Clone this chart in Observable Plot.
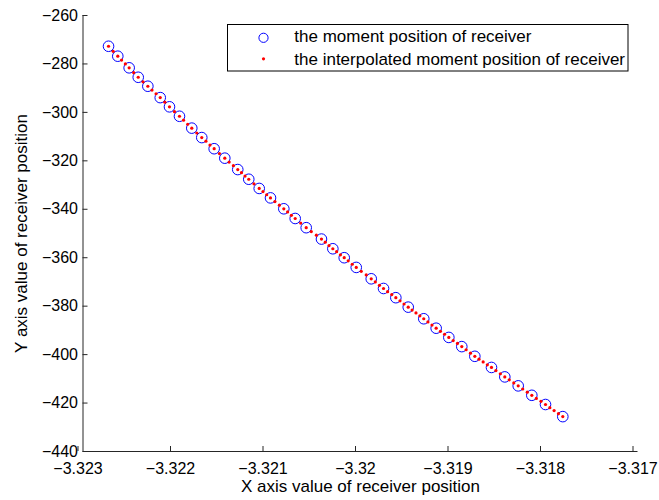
<!DOCTYPE html>
<html>
<head>
<meta charset="utf-8">
<script src="https://cdn.jsdelivr.net/npm/d3@7"></script>
<script src="https://cdn.jsdelivr.net/npm/@observablehq/plot@0.6"></script>
<style>
  html, body { margin: 0; padding: 0; background: #fff; }
  #chart { width: 659px; height: 500px; }
</style>
</head>
<body>
<div id="chart"></div>
<script>
// Measured receiver positions (blue circles)
const sampleX = [
  -3.322724, -3.322624, -3.322501, -3.322403, -3.322299, -3.322165, -3.322065, -3.321957,
  -3.321824, -3.321716, -3.321582, -3.321467, -3.321327, -3.321208, -3.321095, -3.320973,
  -3.320829, -3.320706, -3.320587, -3.320422, -3.320299, -3.320176, -3.320046, -3.319884,
  -3.319751, -3.319618, -3.319484, -3.319316, -3.319182, -3.319045, -3.318905, -3.318764,
  -3.318584, -3.318440, -3.318295, -3.318148, -3.318000, -3.317813
];
const sampleY = [
  -272.7, -276.8, -281.6, -285.5, -289.2, -293.9, -297.7, -301.6,
  -306.5, -310.4, -315.0, -318.9, -323.6, -327.6, -331.4, -335.3,
  -339.8, -343.8, -347.6, -352.3, -356.3, -360.0, -364.0, -368.7,
  -372.7, -376.5, -380.4, -385.2, -389.1, -392.9, -396.7, -400.7,
  -405.3, -409.2, -412.9, -416.8, -420.6, -425.6
];

// Interpolated receiver positions (red dots)
const interpX = [
  -3.322724, -3.322674, -3.322624, -3.322583, -3.322542, -3.322501, -3.322452, -3.322403,
  -3.322351, -3.322299, -3.322254, -3.322210, -3.322165, -3.322115, -3.322065, -3.322011,
  -3.321957, -3.321913, -3.321868, -3.321824, -3.321770, -3.321716, -3.321671, -3.321627,
  -3.321582, -3.321525, -3.321467, -3.321420, -3.321374, -3.321327, -3.321287, -3.321248,
  -3.321208, -3.321152, -3.321095, -3.321054, -3.321014, -3.320973, -3.320925, -3.320877,
  -3.320829, -3.320788, -3.320747, -3.320706, -3.320647, -3.320587, -3.320532, -3.320477,
  -3.320422, -3.320381, -3.320340, -3.320299, -3.320258, -3.320217, -3.320176, -3.320133,
  -3.320089, -3.320046, -3.319992, -3.319938, -3.319884, -3.319840, -3.319795, -3.319751,
  -3.319707, -3.319662, -3.319618, -3.319573, -3.319529, -3.319484, -3.319442, -3.319400,
  -3.319358, -3.319316, -3.319271, -3.319227, -3.319182, -3.319136, -3.319091, -3.319045,
  -3.318998, -3.318952, -3.318905, -3.318858, -3.318811, -3.318764, -3.318719, -3.318674,
  -3.318629, -3.318584, -3.318536, -3.318488, -3.318440, -3.318392, -3.318343, -3.318295,
  -3.318246, -3.318197, -3.318148, -3.318099, -3.318049, -3.318000, -3.317953, -3.317907,
  -3.317860, -3.317813
];
const interpY = [
  -272.7, -274.8, -276.8, -278.4, -280.0, -281.6, -283.6, -285.5,
  -287.4, -289.2, -290.8, -292.3, -293.9, -295.8, -297.7, -299.7,
  -301.6, -303.2, -304.9, -306.5, -308.5, -310.4, -311.9, -313.5,
  -315.0, -317.0, -318.9, -320.5, -322.0, -323.6, -324.9, -326.3,
  -327.6, -329.5, -331.4, -332.7, -334.0, -335.3, -336.8, -338.3,
  -339.8, -341.1, -342.5, -343.8, -345.7, -347.6, -349.2, -350.7,
  -352.3, -353.6, -355.0, -356.3, -357.5, -358.8, -360.0, -361.3,
  -362.7, -364.0, -365.6, -367.1, -368.7, -370.0, -371.4, -372.7,
  -374.0, -375.2, -376.5, -377.8, -379.1, -380.4, -381.6, -382.8,
  -384.0, -385.2, -386.5, -387.8, -389.1, -390.4, -391.6, -392.9,
  -394.2, -395.4, -396.7, -398.0, -399.4, -400.7, -401.9, -403.0,
  -404.2, -405.3, -406.6, -407.9, -409.2, -410.4, -411.7, -412.9,
  -414.2, -415.5, -416.8, -418.1, -419.3, -420.6, -421.9, -423.1,
  -424.4, -425.6
];

// Axis ticks and their labels
const xTicks = [-3.323, -3.322, -3.321, -3.32, -3.319, -3.318, -3.317];
const xTickLabels = ["\u22123.323", "\u22123.322", "\u22123.321", "\u22123.32", "\u22123.319", "\u22123.318", "\u22123.317"];
const yTicks = [-440, -420, -400, -380, -360, -340, -320, -300, -280, -260];
const yTickLabels = ["\u2212440", "\u2212420", "\u2212400", "\u2212380", "\u2212360", "\u2212340", "\u2212320", "\u2212300", "\u2212280", "\u2212260"];

const xTitle = "X axis value of receiver position";
const yTitle = "Y axis value of receiver position";
const legendLabels = [
  "the moment position of receiver",
  "the interpolated moment position of receiver"
];

const samples = sampleX.map((x, i) => ({x, y: sampleY[i]}));
const interp = interpX.map((x, i) => ({x, y: interpY[i]}));

const xDomain = [xTicks[0], xTicks[xTicks.length - 1]];
const yDomain = [yTicks[0], yTicks[yTicks.length - 1]];
const axisColor = "#262626";
const font = "'Liberation Sans', Arial, Helvetica, sans-serif";

const svg = Plot.plot({
  width: 659,
  height: 500,
  marginLeft: 82.5,
  marginRight: 21.5,
  marginTop: 15,
  marginBottom: 49,
  style: {fontFamily: font, fontSize: "16px", color: "#000", background: "#fff", overflow: "visible"},
  x: {domain: xDomain},
  y: {domain: yDomain},
  marks: [
    Plot.ruleY([yDomain[0]], {stroke: axisColor, strokeWidth: 1}),
    Plot.ruleX([xDomain[0]], {stroke: axisColor, strokeWidth: 1}),
    Plot.axisX({
      ticks: xTicks,
      tickFormat: d => xTickLabels[xTicks.indexOf(d)],
      tickSize: -5,
      tickPadding: 16.6,
      dx: -5,
      stroke: axisColor,
      fill: "#000",
      label: null
    }),
    Plot.axisY({
      ticks: yTicks,
      tickFormat: d => yTickLabels[yTicks.indexOf(d)],
      tickSize: -5,
      tickPadding: 10,
      stroke: axisColor,
      fill: "#000",
      label: null
    }),
    Plot.text([xTitle], {frameAnchor: "bottom", textAnchor: "middle", lineAnchor: "middle", dy: 35.5, fontSize: 17, fill: "#000"}),
    Plot.text([yTitle], {frameAnchor: "left", textAnchor: "middle", lineAnchor: "middle", rotate: -90, dx: -61, fontSize: 17, fill: "#000"}),
    Plot.dot(samples, {x: "x", y: "y", r: 5.3, stroke: "#0000ff", strokeWidth: 1, fill: "none"}),
    Plot.dot(interp, {x: "x", y: "y", r: 1.6, fill: "#ff0000", stroke: "none"})
  ]
});

// Legend box in the upper right of the axes
const legend = d3.select(svg).append("g")
  .attr("font-family", font)
  .attr("font-size", 17)
  .attr("text-anchor", "start");
legend.append("rect")
  .attr("x", 227.5).attr("y", 24.5).attr("width", 400.5).attr("height", 46.5)
  .attr("fill", "#fff").attr("stroke", "#000").attr("stroke-width", 1);
legend.append("circle")
  .attr("cx", 263.5).attr("cy", 37.8).attr("r", 4.6)
  .attr("fill", "none").attr("stroke", "#0000ff").attr("stroke-width", 1);
legend.append("circle")
  .attr("cx", 263.5).attr("cy", 58.8).attr("r", 1.6)
  .attr("fill", "#ff0000");
legend.selectAll("text.entry").data(legendLabels).join("text")
  .attr("class", "entry")
  .attr("x", 294.3)
  .attr("y", (d, i) => 41.8 + i * 23)
  .attr("fill", "#000")
  .text(d => d);

document.getElementById("chart").appendChild(svg);
</script>
</body>
</html>
